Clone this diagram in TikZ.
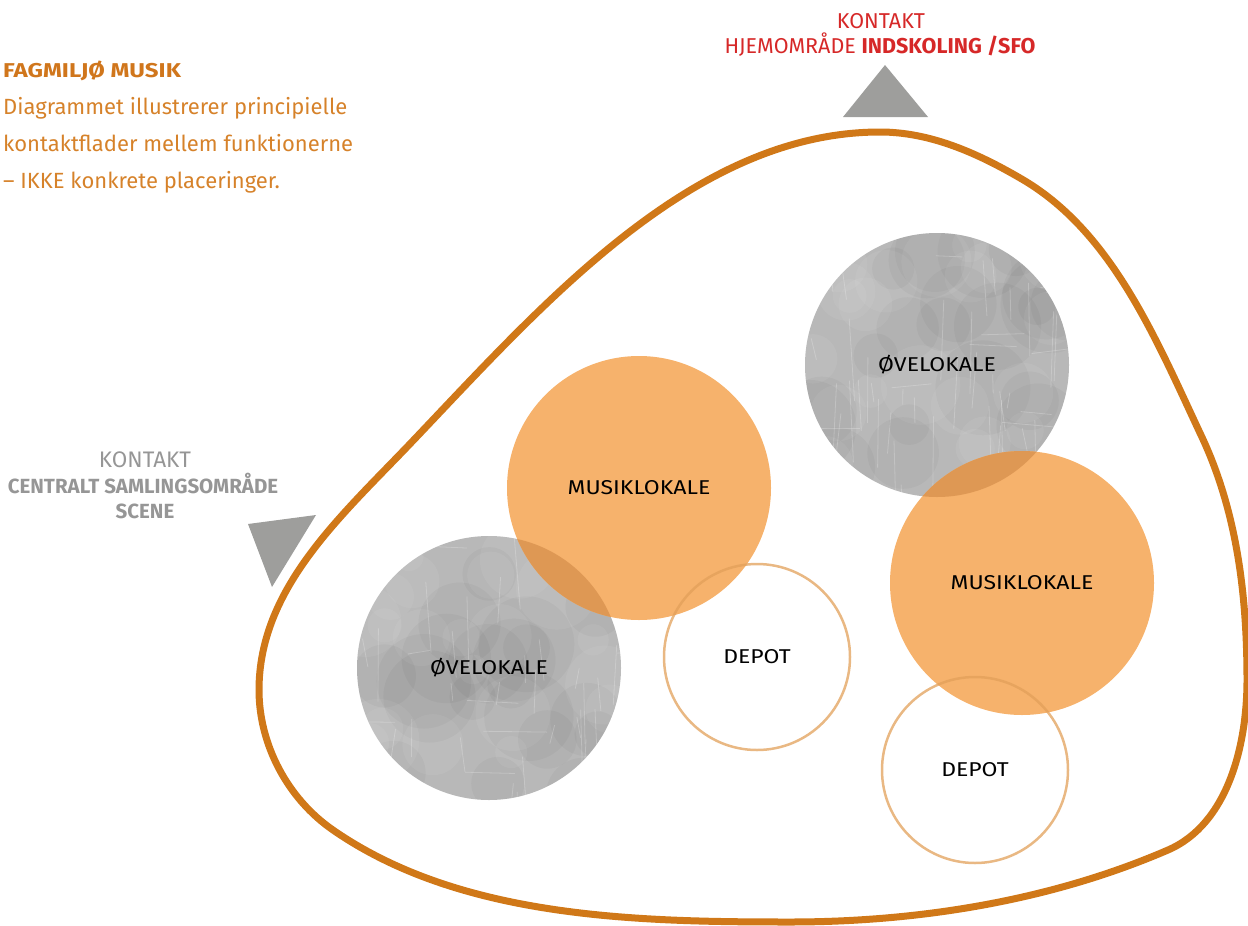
\documentclass[tikz,border=0pt]{standalone}
\usepackage{fontspec}
\setmainfont{Fira Sans}
\newfontfamily\labfont[FakeStretch=1.15]{Fira Sans}
\newfontfamily\headfont[FakeStretch=1.2]{Fira Sans}
\definecolor{outl}{RGB}{208,120,24}
\definecolor{bodyor}{RGB}{214,130,42}
\definecolor{heador}{RGB}{208,118,28}
\definecolor{redt}{RGB}{214,40,40}
\definecolor{grayt}{RGB}{150,150,150}
\definecolor{tri}{RGB}{158,158,156}
\definecolor{grayc}{RGB}{184,184,184}
\definecolor{orc}{RGB}{246,178,108}
\definecolor{orov}{RGB}{222,152,84}
\definecolor{depl}{RGB}{226,160,90}
\tikzset{
  outline/.style={draw=outl,line width=7pt},
  lab/.style={font=\labfont\fontsize{20}{22}\selectfont,text=black},
  graycirc/.style={circle,minimum size=264pt,inner sep=0pt,lab},
  orcirc/.style={circle,fill=orc,minimum size=264pt,inner sep=0pt,lab},
  depcirc/.style={circle,draw=depl,draw opacity=0.75,line width=2.5pt,minimum size=186pt,inner sep=0pt,lab},
  tribox/.style={fill=tri},
  bodytxt/.style={anchor=base west,inner sep=0pt,text=bodyor,font=\fontsize{22}{24}\selectfont},
  toptxt/.style={anchor=base,inner sep=0pt,text=redt,font=\fontsize{21.5}{24}\selectfont},
  scratch/.style={white,opacity=0.22,line width=0.8pt},
  blotdark/.style={fill=black,opacity=0.03},
  blotlight/.style={fill=white,opacity=0.06},
}
\newcommand\grtexture[2]{%
  \fill[grayc] (#1,#2) circle[radius=132pt];
  \begin{scope}
    \clip (#1,#2) circle[radius=132pt];
    \foreach \k in {1,...,22}{%
      \pgfmathsetmacro\xx{#1+rand*130}%
      \pgfmathsetmacro\yy{#2+rand*130}%
      \pgfmathsetmacro\rr{18+rnd*32}%
      \fill[blotdark] (\xx,\yy) circle[radius=\rr pt];
    }
    \foreach \k in {1,...,22}{%
      \pgfmathsetmacro\xx{#1+rand*130}%
      \pgfmathsetmacro\yy{#2+rand*130}%
      \pgfmathsetmacro\rr{14+rnd*28}%
      \fill[blotlight] (\xx,\yy) circle[radius=\rr pt];
    }
    \foreach \k in {1,...,40}{%
      \pgfmathsetmacro\xx{#1+rand*132}%
      \pgfmathsetmacro\yy{#2+rand*132}%
      \pgfmathsetmacro\ll{15+rnd*70}%
      \pgfmathsetmacro\dd{rand*6}%
      \draw[scratch] (\xx,\yy) -- ++(\dd,\ll);
    }
    \foreach \k in {1,...,10}{%
      \pgfmathsetmacro\xx{#1+rand*132}%
      \pgfmathsetmacro\yy{#2+rand*132}%
      \pgfmathsetmacro\ll{15+rnd*50}%
      \pgfmathsetmacro\dd{rand*5}%
      \draw[scratch] (\xx,\yy) -- ++(\ll,\dd);
    }
  \end{scope}}
\begin{document}
\begin{tikzpicture}[x=1pt,y=-1pt]
\pgfmathsetseed{7}
\useasboundingbox (0,0) rectangle (1248,926);
% triangles
\fill[tribox] (885,65) -- (928,117) -- (843,117) -- cycle;
\fill[tribox] (248,524) -- (316,515) -- (272,587) -- cycle;
% outline
\draw[outline] (880,132)
  .. controls (690,132) and (538,310) .. (407,447)
  .. controls (338,519) and (259,590) .. (259,690)
  .. controls (259,745) and (288,799) .. (333,830)
  .. controls (460,918) and (635,922) .. (790,922)
  .. controls (918,922) and (1050,901) .. (1168,850)
  .. controls (1228,824) and (1247,745) .. (1247,680)
  .. controls (1247,595) and (1237,510) .. (1200,433)
  .. controls (1155,337) and (1111,230) .. (1020,178)
  .. controls (977,153) and (930,132) .. cycle;
% circles
\grtexture{489}{668}
\node[graycirc] (ov1) at (489,668) {ØVELOKALE};
\node[orcirc] (mu1) at (639,488) {MUSIKLOKALE};
\begin{scope}
 \clip (489,668) circle[radius=132pt];
 \fill[orov] (639,488) circle[radius=132pt];
\end{scope}
\grtexture{937}{365}
\node[graycirc] (ov2) at (937,365) {ØVELOKALE};
\node[orcirc] (mu2) at (1022,583) {MUSIKLOKALE};
\begin{scope}
 \clip (937,365) circle[radius=132pt];
 \fill[orov] (1022,583) circle[radius=132pt];
\end{scope}
\node[depcirc] (de1) at (757,657) {DEPOT};
\node[depcirc] (de2) at (975,770) {DEPOT};
% texts
\node[anchor=base west,inner sep=0pt,text=heador,font=\headfont\fontsize{20}{22}\selectfont\bfseries] (head) at (3,77) {FAGMILJØ MUSIK};
\node[bodytxt] (b1) at (3,114) {Diagrammet illustrerer principielle};
\node[bodytxt] (b2) at (3,151) {kontaktflader mellem funktionerne};
\node[bodytxt] (b3) at (3,188) {– IKKE konkrete placeringer.};
\node[toptxt] (k1) at (881,28) {KONTAKT};
\node[toptxt] (k2) at (880,53) {HJEMOMRÅDE \textbf{INDSKOLING /SFO}};
\node[anchor=base,inner sep=0pt,text=grayt,font=\fontsize{22.5}{24}\selectfont] (k3) at (145,467) {KONTAKT};
\node[anchor=base,inner sep=0pt,text=grayt,font=\fontsize{20.5}{24}\selectfont\bfseries] (k4) at (143,493) {CENTRALT SAMLINGSOMRÅDE};
\node[anchor=base,inner sep=0pt,text=grayt,font=\fontsize{20.5}{24}\selectfont\bfseries] (k5) at (145,518) {SCENE};
\end{tikzpicture}
\end{document}
